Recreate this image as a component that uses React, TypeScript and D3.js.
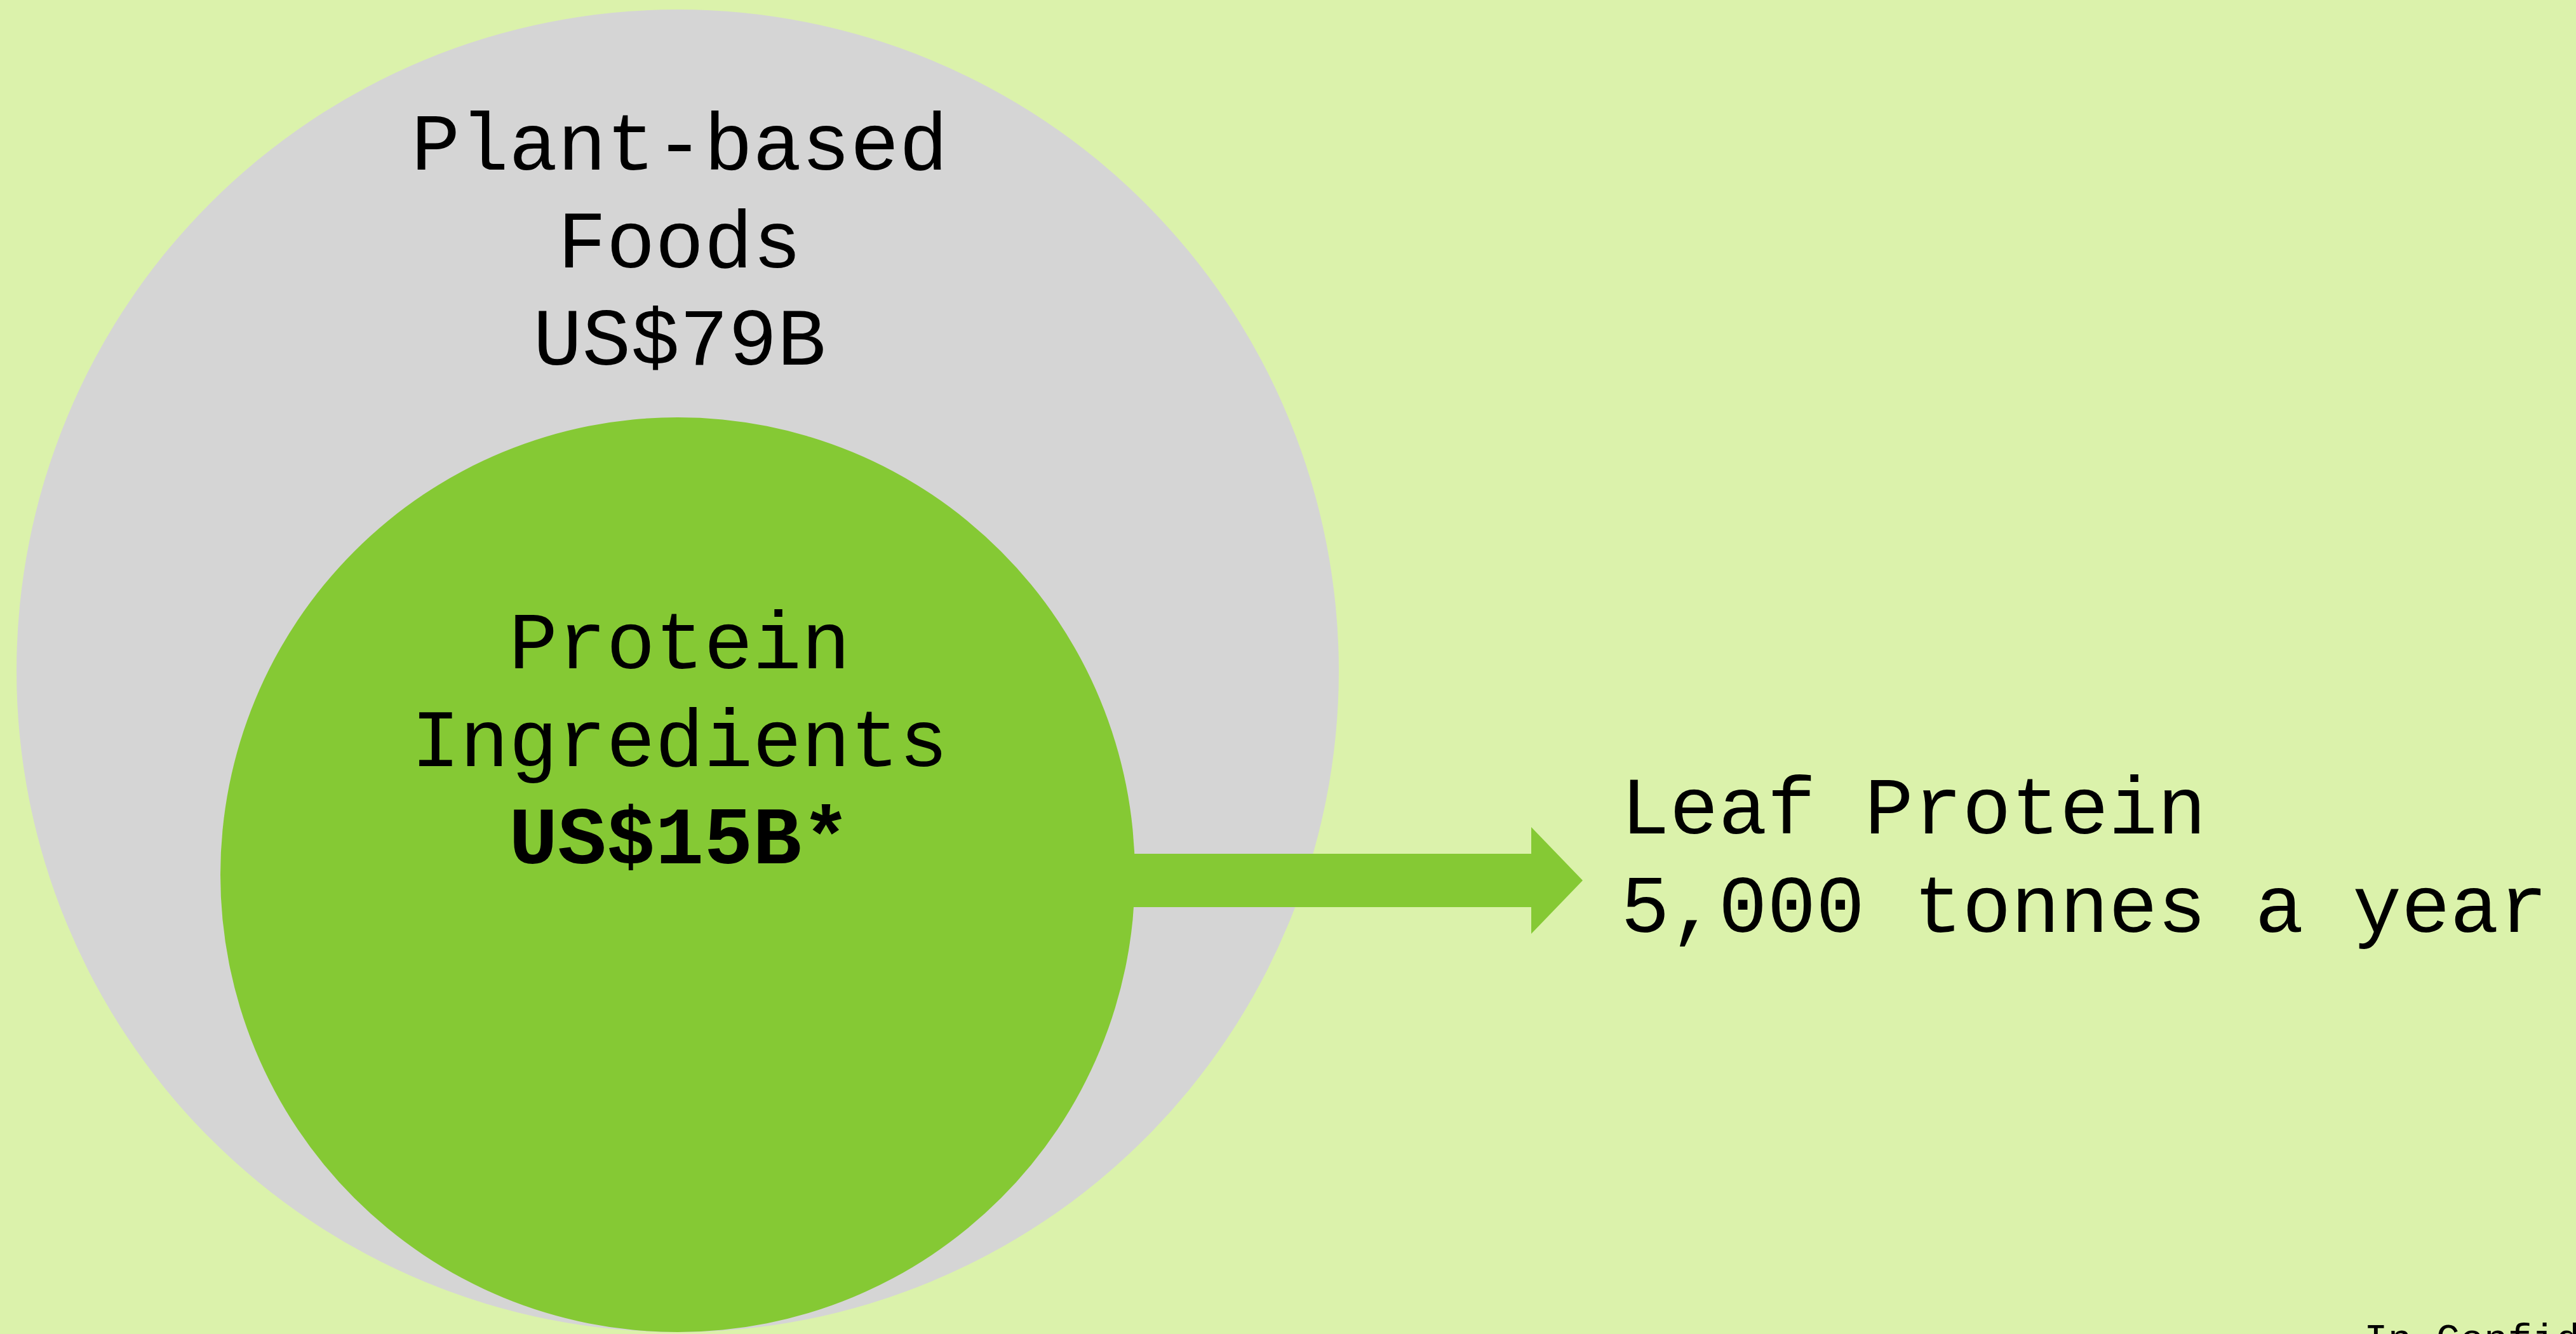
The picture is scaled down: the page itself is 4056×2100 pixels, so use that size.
import React, { useEffect, useRef } from 'react';
import * as d3 from 'd3';

// market segments, outer to inner
const segments = ['Plant-based Foods', 'Protein Ingredients'];
const segmentValues = ['US$79B', 'US$15B*'];
const segmentLines = [['Plant-based', 'Foods', 'US$79B'], ['Protein', 'Ingredients', 'US$15B*']];
const segmentBold = [[false, false, false], [false, false, true]];

// arrow target
const targetLines = ['Leaf Protein', '5,000 tonnes a year'];
const footnote = 'In Confidence';

const W = 4056;
const H = 2100;

const App = () => {
  const svgRef = useRef<SVGSVGElement | null>(null);

  useEffect(() => {
    const svg = d3.select(svgRef.current);
    svg.selectAll('*').remove();

    const font = '"Courier New", "Liberation Mono", monospace';
    const colors = { bg: '#dbf2ab', outer: '#d5d5d5', inner: '#85c934', text: '#000' };

    // relative scale for circle sizes (ordinal -> radius)
    const r = d3.scaleOrdinal<string, number>().domain(segments).range([1041, 720]);
    const cx = 1067;
    const bottom = 2097;

    svg.append('rect').attr('width', W).attr('height', H).attr('fill', colors.bg);

    const fills = [colors.outer, colors.inner];

    // arrow from inner circle to the leaf protein label
    const shaftY = 1386;
    const arrow = d3.path();
    arrow.moveTo(1700, shaftY - 42);
    arrow.lineTo(2411, shaftY - 42);
    arrow.lineTo(2411, shaftY - 84);
    arrow.lineTo(2492, shaftY);
    arrow.lineTo(2411, shaftY + 84);
    arrow.lineTo(2411, shaftY + 42);
    arrow.lineTo(1700, shaftY + 42);
    arrow.closePath();

    segments.forEach((s, i) => {
      svg.append('circle')
        .attr('cx', cx)
        .attr('cy', bottom - r(s))
        .attr('r', r(s))
        .attr('fill', fills[i]);
      if (i === 0) return;
    });

    svg.append('path').attr('d', arrow.toString()).attr('fill', colors.inner);

    // labels
    const firstBaseline = [267, 1052];
    const lineH = 153.5;
    segmentLines.forEach((lines, i) => {
      const t = svg.append('text')
        .attr('x', cx + 3)
        .attr('y', firstBaseline[i])
        .attr('text-anchor', 'middle')
        .attr('font-family', font)
        .attr('font-size', 128)
        .attr('fill', colors.text);
      lines.forEach((line, j) => {
        t.append('tspan')
          .attr('x', cx + 3)
          .attr('y', firstBaseline[i] + j * lineH)
          .attr('font-weight', segmentBold[i][j] ? 'bold' : 'normal')
          .text(line);
      });
    });

    targetLines.forEach((line, j) => {
      svg.append('text')
        .attr('x', 2552)
        .attr('y', 1312 + j * 155)
        .attr('font-family', font)
        .attr('font-size', 128)
        .attr('fill', colors.text)
        .text(line);
    });

    svg.append('text')
      .attr('x', 3722)
      .attr('y', 2128)
      .attr('font-family', font)
      .attr('font-size', 63)
      .attr('fill', colors.text)
      .text(footnote);

    void segmentValues;
  }, []);

  return (
    <div style={{ position: 'absolute', left: 0, top: 0, width: W, height: H, overflow: 'hidden' }}>
      <svg ref={svgRef} width={W} height={H} viewBox={`0 0 ${W} ${H}`} style={{ display: 'block' }} />
    </div>
  );
};

export default App;
